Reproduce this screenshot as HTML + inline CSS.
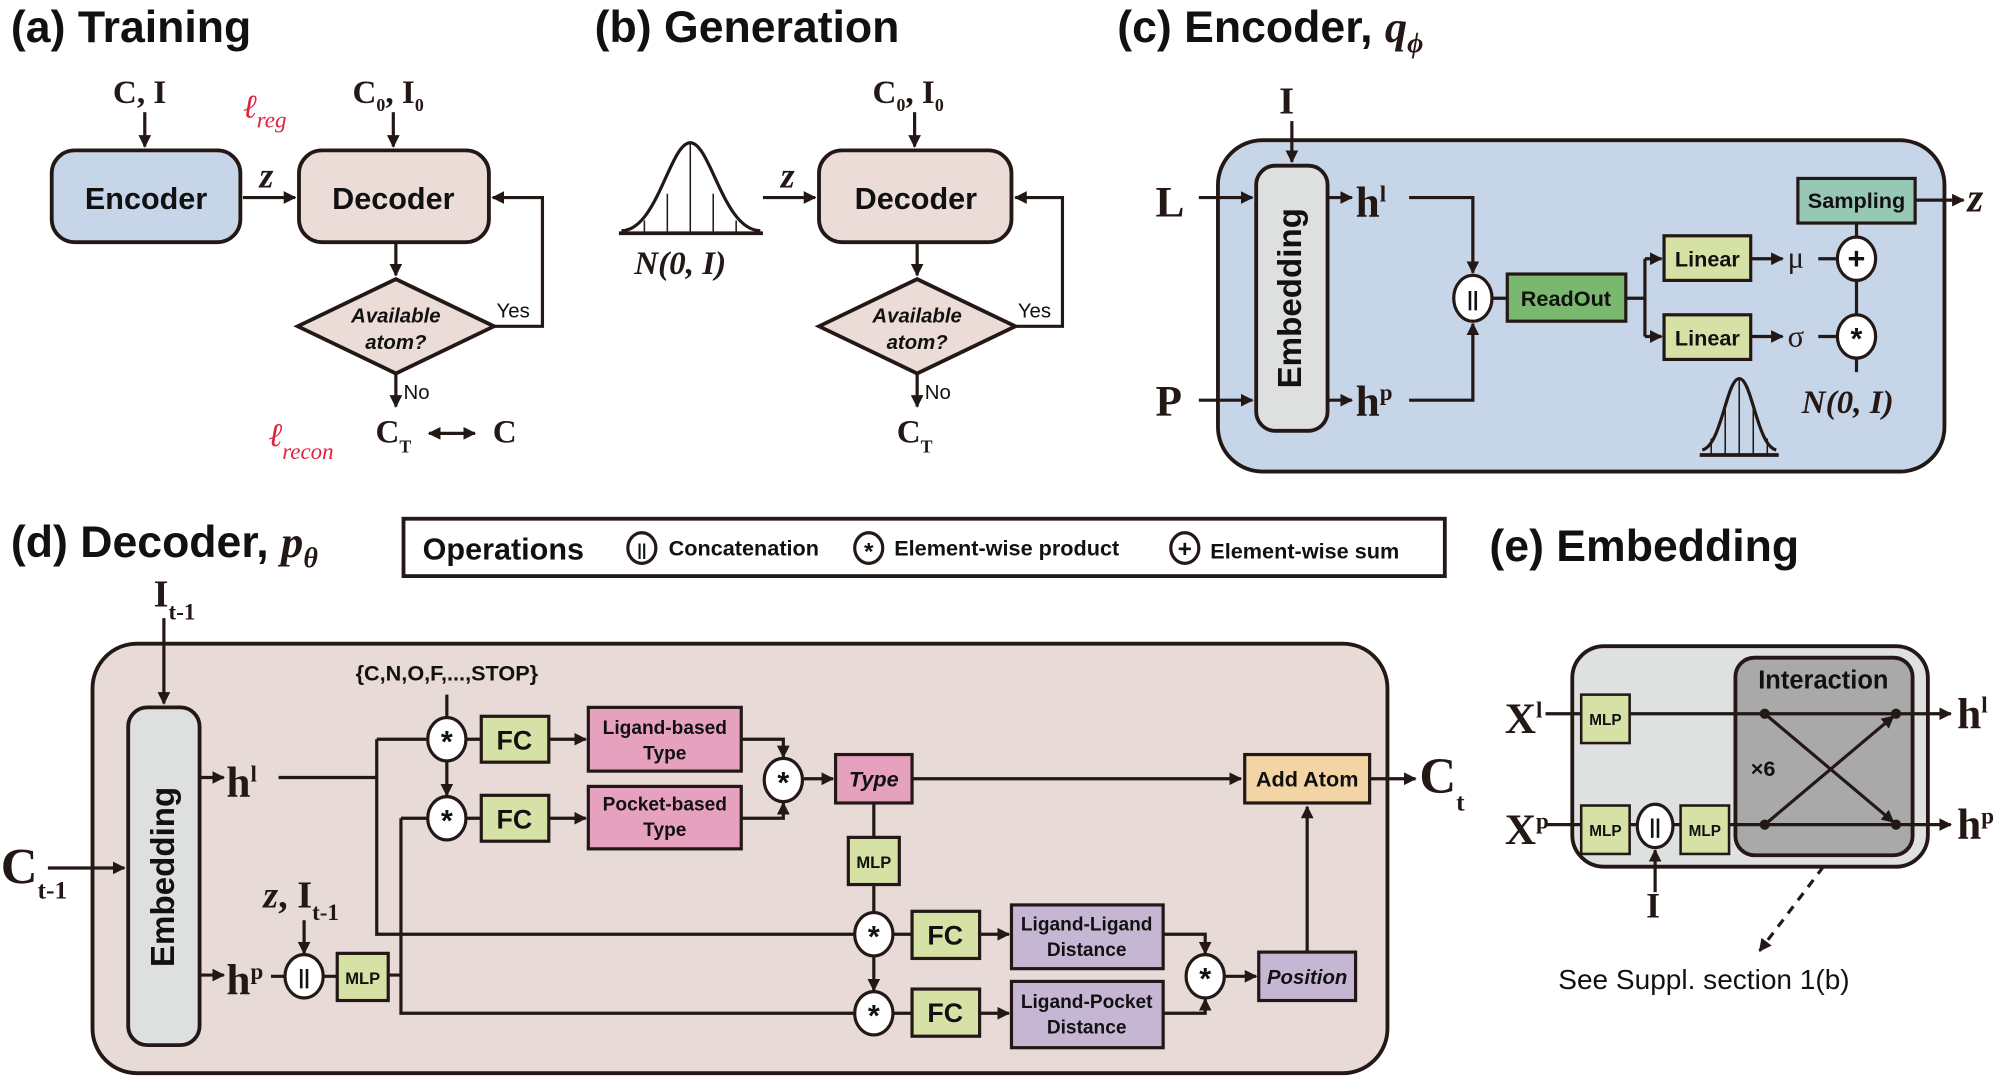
<!DOCTYPE html>
<html><head><meta charset="utf-8"><style>
html,body{margin:0;padding:0;background:#fff;}
svg{display:block;}
.t{font-family:"Liberation Sans",sans-serif;font-weight:bold;fill:#111;}
.s{font-family:"Liberation Serif",serif;font-weight:bold;fill:#231815;}
.i{font-family:"Liberation Serif",serif;font-style:italic;fill:#231815;}
</style></head><body>
<svg width="2000" height="1077" viewBox="0 0 1568 845" xmlns="http://www.w3.org/2000/svg">
<defs>
<marker id="a" viewBox="0 0 10 10" refX="9" refY="5" markerWidth="4" markerHeight="4" orient="auto"><path d="M0,0L10,5L0,10z" fill="#231815"/></marker>
<marker id="b" viewBox="0 0 10 10" refX="1" refY="5" markerWidth="4" markerHeight="4" orient="auto"><path d="M10,0L0,5L10,10z" fill="#231815"/></marker>
</defs>
<g stroke="#231815" stroke-width="2.5" fill="none">
<rect x="40" y="118" width="148" height="72" rx="18" fill="#c6d6e8" stroke-width="3"/>
<rect x="234" y="118" width="149" height="72" rx="18" fill="#ecdcd7" stroke-width="3"/>
<g marker-end="url(#a)">
<path d="M113,88V115"/><path d="M190,155H231"/><path d="M308,88V115"/><path d="M310,190V216"/><path d="M310,293V319"/>
<path d="M387,256H425V155H386"/>
<path d="M336,340H372" marker-start="url(#b)"/>
</g>
<polygon points="233,256 310,219 387,256 310,293" fill="#ecdcd7" stroke-width="3"/>
<path d="M485,183H598" stroke-width="3"/>
<path d="M487,181C515,181 525,112 541,112C557,112 567,181 596,181"/>
<path d="M505,183V173M523,183V152M541,183V112M559,183V152M577,183V173" stroke-width="1.2"/>
<rect x="642" y="118" width="151" height="72" rx="18" fill="#ecdcd7" stroke-width="3"/>
<g marker-end="url(#a)">
<path d="M598,155H639"/><path d="M717,88V115"/><path d="M719,190V216"/><path d="M719,293V319"/>
<path d="M796,256H833V155H796"/>
</g>
<polygon points="642,256 719,219 796,256 719,293" fill="#ecdcd7" stroke-width="3"/>
<rect x="955" y="110" width="570" height="260" rx="35" fill="#c6d5e7" stroke-width="3"/>
<rect x="985" y="130" width="56" height="208" rx="15" fill="#dee0e0" stroke-width="3"/>
<g marker-end="url(#a)">
<path d="M1013,95V127"/><path d="M940,155H982"/><path d="M940,314H982"/><path d="M1041,155H1060"/><path d="M1041,314H1060"/>
<path d="M1105,155H1155V214"/><path d="M1105,314H1155V254"/>
<path d="M1290,203H1303"/><path d="M1290,264H1303"/><path d="M1373,203H1398"/><path d="M1373,264H1398"/><path d="M1502,157H1540"/>
</g>
<path d="M1170,234H1182M1275,234H1290M1290,203V264M1426,203H1440M1426,264H1440M1456,175V187M1456,219V248M1456,280V292"/>
<ellipse cx="1155" cy="234" rx="15" ry="18" fill="#fff"/>
<rect x="1182" y="215" width="93" height="37" fill="#7ab86f"/>
<rect x="1305" y="185" width="68" height="35" fill="#d6e1a5"/>
<rect x="1305" y="247" width="68" height="35" fill="#d6e1a5"/>
<rect x="1410" y="140" width="92" height="35" fill="#97c8b6"/>
<ellipse cx="1456" cy="203" rx="15" ry="17" fill="#fff"/>
<ellipse cx="1456" cy="264" rx="15" ry="17" fill="#fff"/>
<path d="M1333,357H1395" stroke-width="3"/>
<path d="M1335,353C1350,350 1354,297 1364,297C1374,297 1378,350 1393,353"/>
<path d="M1342,357V344M1353,357V318M1364,357V297M1375,357V318M1386,357V344" stroke-width="1.2"/>
<rect x="316" y="407" width="817" height="45" stroke-width="3"/>
<ellipse cx="503" cy="430" rx="11" ry="12"/><ellipse cx="681" cy="430" rx="11" ry="12"/><ellipse cx="929" cy="430" rx="11" ry="12"/>
<rect x="72" y="505" width="1016" height="337" rx="35" fill="#e8dad6" stroke-width="3"/>
<rect x="100" y="555" width="56" height="265" rx="15" fill="#dee0e0" stroke-width="3"/>
<g marker-end="url(#a)">
<path d="M128,485V552"/><path d="M37,681H97"/><path d="M156,610H175"/><path d="M156,765H175"/>
<path d="M350,596V624"/>
<path d="M430,580H459"/><path d="M430,642H459"/>
<path d="M581,580H614V594"/><path d="M581,642H614V630"/>
<path d="M630,611H653"/><path d="M715,611H973"/><path d="M1074,611H1110"/>
<path d="M238,722V748"/>
<path d="M768,733H791"/><path d="M768,795H791"/>
<path d="M912,733H945V748"/><path d="M912,795H945V784"/>
<path d="M961,766H985"/><path d="M1025,747V633"/>
<path d="M685,750V777"/>
</g>
<path d="M218,610H295M295,580V733H669M295,580H334M253,766H264M304,765H314M314,642V795H669M314,642H334M366,580H377M366,642H377M685,630V657M685,694V717M701,733H715M701,795H715M212,766H223M350,545V563"/>
<g fill="#fff"><ellipse cx="350" cy="580" rx="15" ry="17"/><ellipse cx="350" cy="642" rx="15" ry="17"/><ellipse cx="614" cy="612" rx="15" ry="17"/><ellipse cx="685" cy="733" rx="15" ry="17"/><ellipse cx="685" cy="795" rx="15" ry="17"/><ellipse cx="945" cy="766" rx="15" ry="17"/><ellipse cx="238" cy="766" rx="15" ry="17"/></g>
<g fill="#d6e1a5"><rect x="377" y="562" width="53" height="36"/><rect x="377" y="624" width="53" height="36"/><rect x="665" y="657" width="40" height="37"/><rect x="715" y="715" width="53" height="37"/><rect x="715" y="776" width="53" height="37"/><rect x="264" y="748" width="40" height="37"/></g>
<g fill="#e6a1be"><rect x="461" y="555" width="120" height="50"/><rect x="461" y="617" width="120" height="49"/><rect x="655" y="592" width="60" height="38"/></g>
<g fill="#c5b7d4"><rect x="793" y="710" width="119" height="50"/><rect x="793" y="770" width="119" height="52"/><rect x="987" y="747" width="76" height="38"/></g>
<rect x="976" y="592" width="98" height="38" fill="#f2d4a5"/>
<rect x="1233" y="507" width="279" height="173" rx="25" fill="#dfe1e1" stroke-width="3"/>
<rect x="1361" y="516" width="139" height="155" rx="15" fill="#a9a9a9" stroke-width="3"/>
<path d="M1212,560H1240M1212,647H1240M1278,647H1284M1312,647H1318"/>
<g marker-end="url(#a)">
<path d="M1278,560H1530"/><path d="M1356,647H1530"/><path d="M1298,700V667"/>
<path d="M1384,560L1485,645"/><path d="M1384,647L1485,562"/>
<path d="M1430,680L1380,746" stroke-dasharray="7,6"/>
</g>
<ellipse cx="1298" cy="648" rx="14" ry="17" fill="#fff"/>
<g fill="#d6e1a5" stroke-width="2"><rect x="1240" y="545" width="38" height="38"/><rect x="1240" y="632" width="38" height="38"/><rect x="1318" y="632" width="38" height="38"/></g>
</g>
<g fill="#231815"><circle cx="1384" cy="560" r="4"/><circle cx="1487" cy="560" r="4"/><circle cx="1384" cy="647" r="4"/><circle cx="1487" cy="647" r="4"/></g>
<g class="t" font-size="35">
<text x="8" y="33">(a) Training</text><text x="466" y="33">(b) Generation</text><text x="876" y="33">(c) Encoder, <tspan class="i" font-weight="bold">q<tspan font-size="22" dy="8">ϕ</tspan></tspan></text>
<text x="8" y="437">(d) Decoder, <tspan class="i" font-weight="bold">p<tspan font-size="22" dy="8">θ</tspan></tspan></text>
<text x="1168" y="440">(e) Embedding</text>
</g>
<g class="t" font-size="24" text-anchor="middle"><text x="114" y="164">Encoder</text><text x="308" y="164">Decoder</text><text x="718" y="164">Decoder</text></g>
<g class="t" font-size="16" font-style="italic" text-anchor="middle"><text x="310" y="253">Available</text><text x="310" y="274">atom?</text><text x="719" y="253">Available</text><text x="719" y="274">atom?</text></g>
<g class="t" font-size="16" style="font-weight:normal"><text x="389" y="249">Yes</text><text x="316" y="313">No</text><text x="798" y="249">Yes</text><text x="725" y="313">No</text></g>
<g class="s" font-size="26">
<text x="88" y="81">C, I</text><text x="276" y="81">C<tspan font-size="14" dy="6">0</tspan><tspan dy="-6">, I</tspan><tspan font-size="14" dy="6">0</tspan></text>
<text x="684" y="81">C<tspan font-size="14" dy="6">0</tspan><tspan dy="-6">, I</tspan><tspan font-size="14" dy="6">0</tspan></text>
<text x="294" y="347">C<tspan font-size="14" dy="8">T</tspan></text><text x="386" y="347">C</text>
<text x="703" y="347">C<tspan font-size="14" dy="8">T</tspan></text>
</g>
<g class="i" font-size="28" font-weight="bold"><text x="203" y="147">z</text><text x="612" y="147">z</text></g>
<g class="i" font-size="26" style="fill:#e0233d"><text x="190" y="92">ℓ<tspan font-size="18" dy="8">reg</tspan></text><text x="210" y="350">ℓ<tspan font-size="18" dy="10">recon</tspan></text></g>
<text class="i" x="497" y="215" font-size="26" font-weight="bold">N(0, I)</text>
<text class="i" x="1413" y="324" font-size="26" font-weight="bold">N(0, I)</text>
<g class="s" font-size="34"><text x="906" y="170">L</text><text x="906" y="326">P</text><text x="1003" y="89" font-size="30">I</text>
<text x="1063" y="170">h<tspan font-size="18" dy="-12">l</tspan></text><text x="1063" y="326">h<tspan font-size="18" dy="-12">p</tspan></text>
<text x="177" y="625">h<tspan font-size="18" dy="-12">l</tspan></text><text x="177" y="780">h<tspan font-size="18" dy="-12">p</tspan></text>
<text x="120" y="476" font-size="30">I<tspan font-size="18" dy="10">t-1</tspan></text>
<text x="0" y="693" font-size="40">C<tspan font-size="20" dy="12">t-1</tspan></text>
<text x="1113" y="622" font-size="40">C<tspan font-size="20" dy="14">t</tspan></text>
<text x="1180" y="575">X<tspan font-size="18" dy="-12">l</tspan></text><text x="1180" y="662">X<tspan font-size="18" dy="-12">p</tspan></text>
<text x="1535" y="571">h<tspan font-size="18" dy="-12">l</tspan></text><text x="1535" y="658">h<tspan font-size="18" dy="-12">p</tspan></text>
<text x="1291" y="720" font-size="28">I</text>
<text x="206" y="712" font-size="30"><tspan font-style="italic">z</tspan>, I<tspan font-size="18" dy="10">t-1</tspan></text>
</g>
<text class="i" x="1543" y="166" font-size="32" font-weight="bold">z</text>
<g class="s" font-size="24" style="font-weight:normal"><text x="1402" y="210">μ</text><text x="1402" y="272">σ</text></g>
<text class="t" x="1020" y="234" font-size="26" transform="rotate(-90 1020 234)" text-anchor="middle">Embedding</text>
<text class="t" x="136" y="688" font-size="26" transform="rotate(-90 136 688)" text-anchor="middle">Embedding</text>
<g class="t" font-size="17" text-anchor="middle">
<text x="1228" y="240">ReadOut</text><text x="1339" y="209">Linear</text><text x="1339" y="271">Linear</text><text x="1456" y="163">Sampling</text>
<text x="521" y="576" font-size="15">Ligand-based</text><text x="521" y="596" font-size="15">Type</text>
<text x="521" y="636" font-size="15">Pocket-based</text><text x="521" y="656" font-size="15">Type</text>
<text x="685" y="617" font-style="italic">Type</text><text x="1025" y="617">Add Atom</text><text x="1025" y="772" font-style="italic" font-size="16">Position</text>
<text x="852" y="730" font-size="15">Ligand-Ligand</text><text x="852" y="750" font-size="15">Distance</text>
<text x="852" y="791" font-size="15">Ligand-Pocket</text><text x="852" y="811" font-size="15">Distance</text>
<text x="403" y="588" font-size="21">FC</text><text x="403" y="650" font-size="21">FC</text><text x="741" y="741" font-size="21">FC</text><text x="741" y="802" font-size="21">FC</text>
<text x="685" y="681" font-size="13">MLP</text><text x="284" y="772" font-size="13">MLP</text>
<text x="1259" y="569" font-size="12">MLP</text><text x="1259" y="656" font-size="12">MLP</text><text x="1337" y="656" font-size="12">MLP</text>
<text x="350" y="534" font-size="17">{C,N,O,F,...,STOP}</text>
<text x="1430" y="540" font-size="20">Interaction</text>
</g>
<text class="t" x="1373" y="609" font-size="17">×6</text>
<g class="t" font-size="24" text-anchor="middle">
<text x="350" y="590">*</text><text x="350" y="652">*</text><text x="614" y="622">*</text><text x="685" y="743">*</text><text x="685" y="805">*</text><text x="945" y="776">*</text><text x="1456" y="274">*</text>
<text x="1456" y="211" font-size="24">+</text><text x="681" y="439" font-size="19">*</text><text x="929" y="437" font-size="19">+</text>
</g>
<g class="t" font-size="16" text-anchor="middle"><text x="1155" y="240">||</text><text x="238" y="772">||</text><text x="1298" y="654">||</text><text x="503" y="436" font-size="13">||</text></g>
<g class="t" font-size="17"><text x="331" y="439" font-size="24">Operations</text><text x="524" y="436">Concatenation</text><text x="701" y="436">Element-wise product</text><text x="949" y="438">Element-wise sum</text></g>
<text class="t" x="1222" y="776" font-size="22" style="font-weight:normal">See Suppl. section 1(b)</text>
</svg>
</body></html>
